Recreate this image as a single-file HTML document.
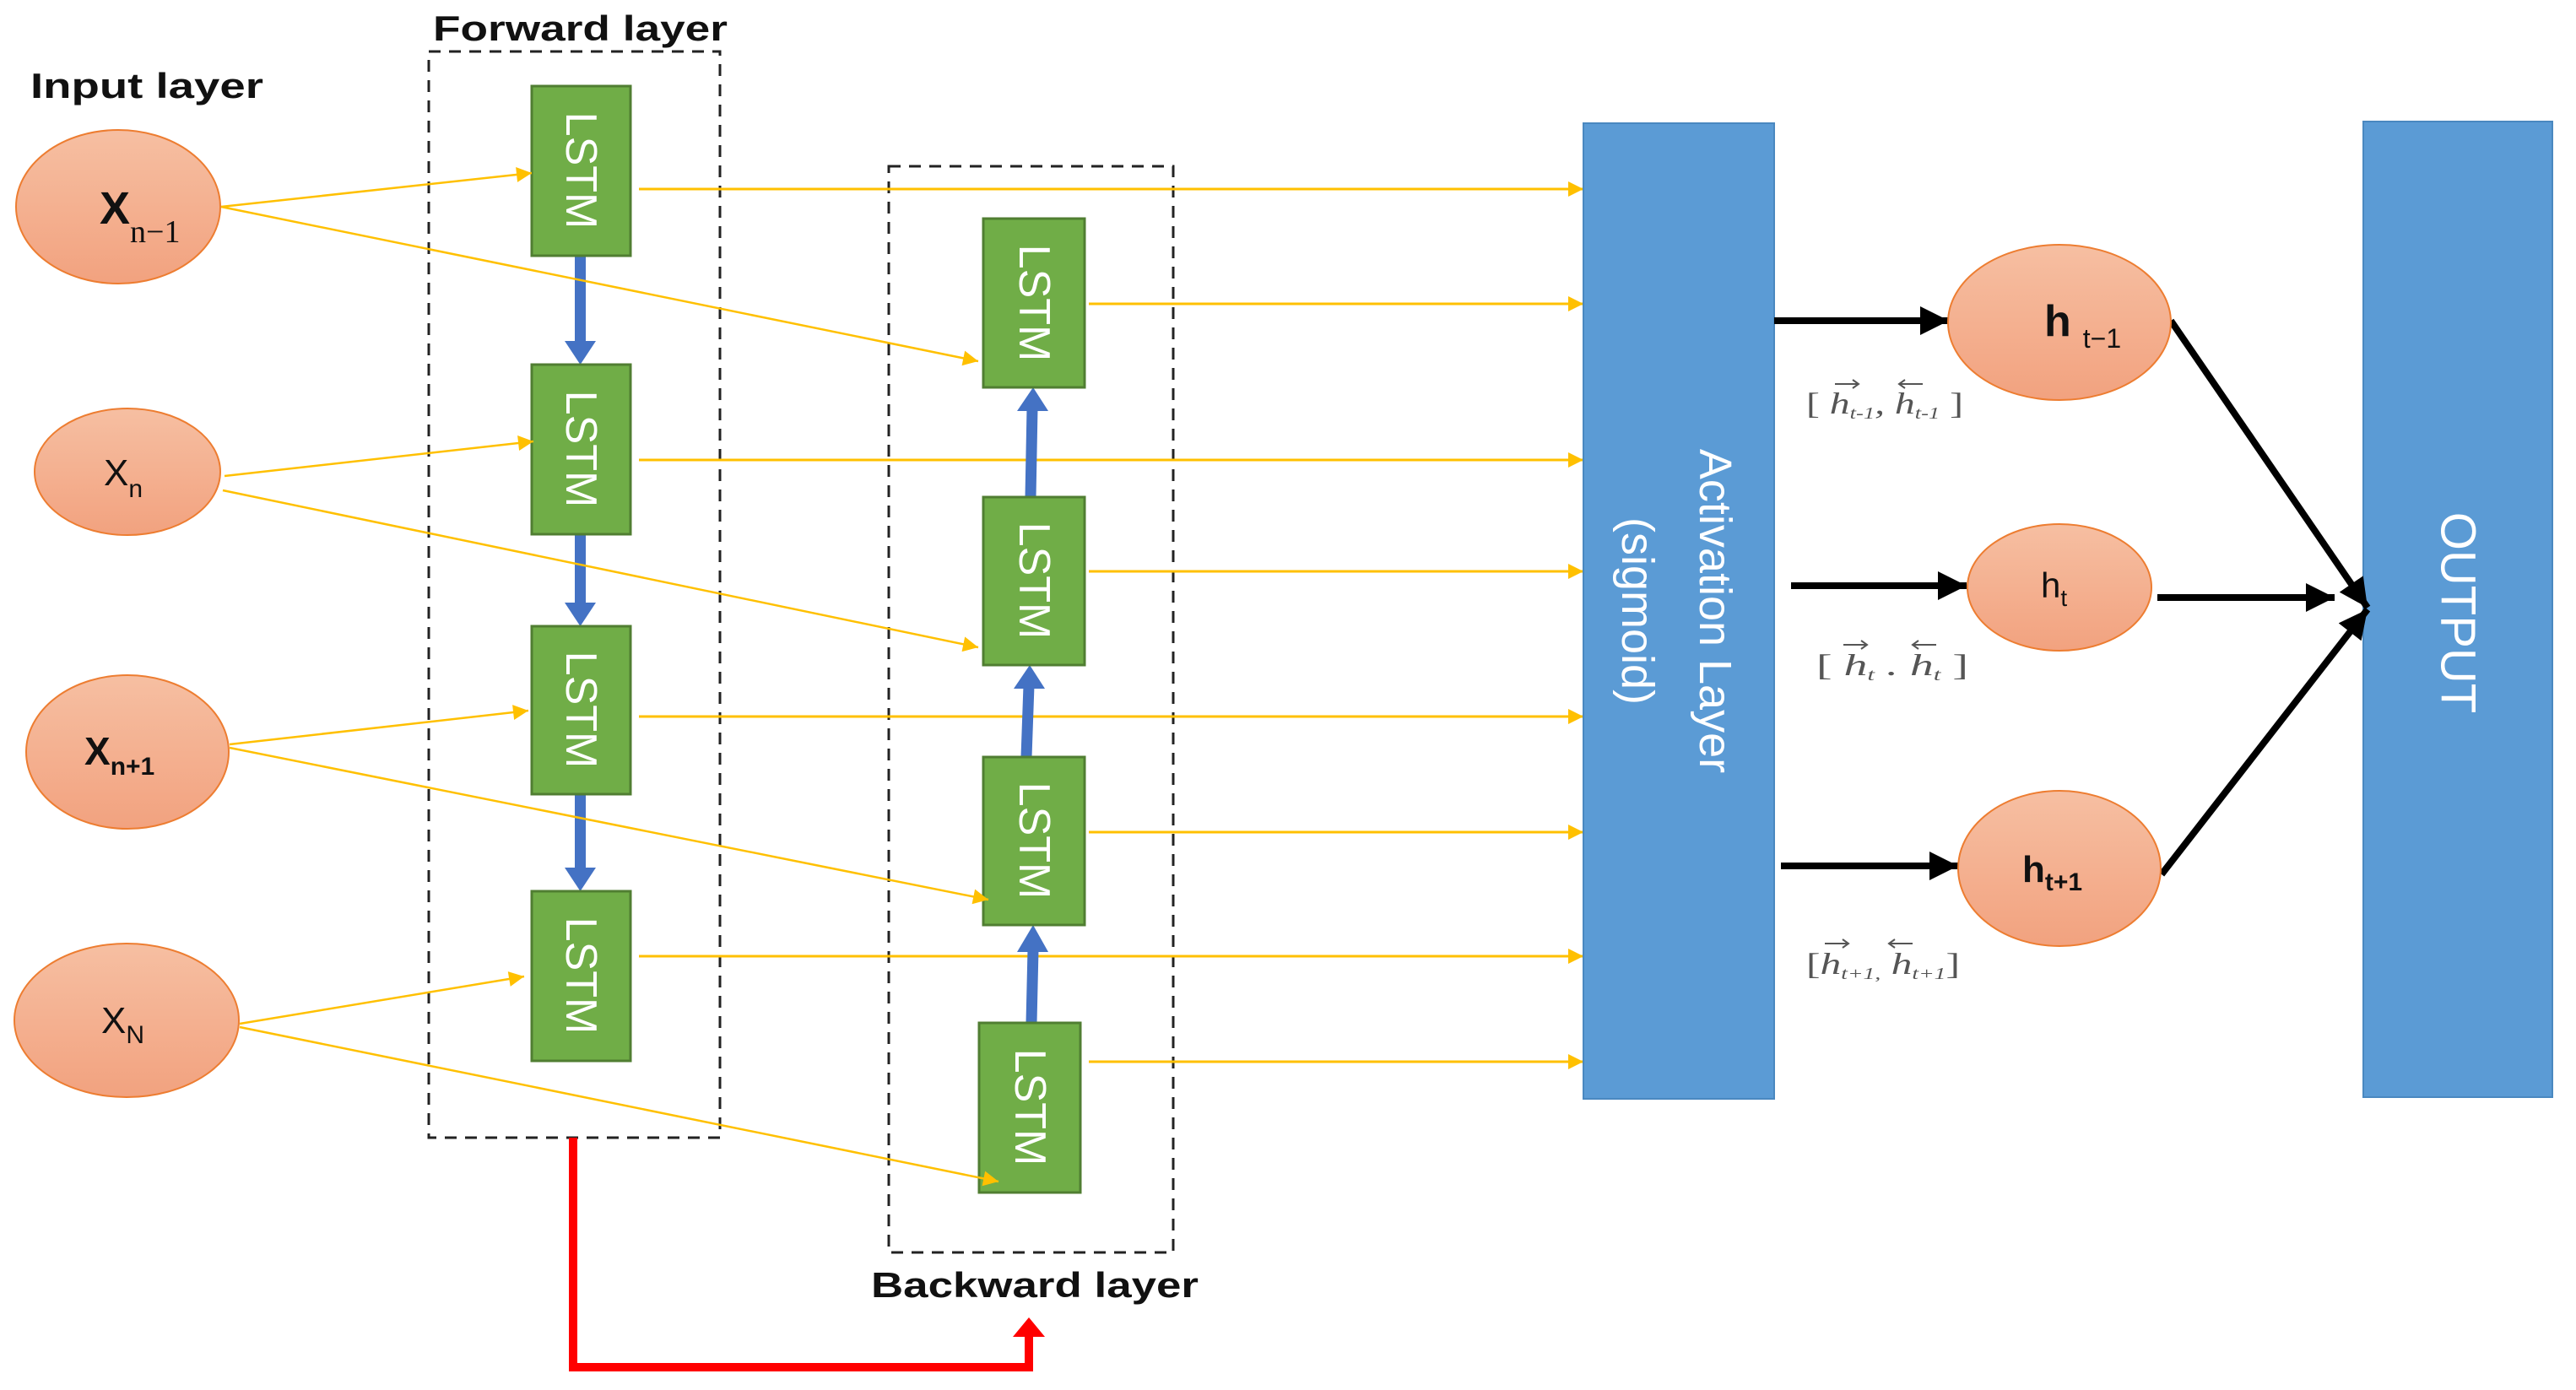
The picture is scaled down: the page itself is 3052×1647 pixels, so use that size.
<!DOCTYPE html>
<html><head><meta charset="utf-8"><style>
html,body{margin:0;padding:0;background:#fff;}
svg{display:block;}
</style></head><body>
<svg width="3052" height="1647" viewBox="0 0 3052 1647" xmlns="http://www.w3.org/2000/svg" font-family="Liberation Sans, DejaVu Sans, sans-serif">
<defs>
<linearGradient id="eg" x1="0" y1="0" x2="0" y2="1">
<stop offset="0" stop-color="#F6BFA2"/><stop offset="1" stop-color="#F2A27F"/>
</linearGradient>
<marker id="ya" viewBox="0 0 10 10" refX="10" refY="5" markerWidth="22" markerHeight="18" markerUnits="userSpaceOnUse" orient="auto"><path d="M0,0 L10,5 L0,10 z" fill="#FFC000"/></marker>
<marker id="ba" viewBox="0 0 10 10" refX="10" refY="5" markerWidth="40" markerHeight="34" markerUnits="userSpaceOnUse" orient="auto"><path d="M0,0 L10,5 L0,10 z" fill="#000"/></marker>
</defs>

<!-- labels -->
<text x="36" y="116" font-size="42" font-weight="bold" fill="#111" textLength="276" lengthAdjust="spacingAndGlyphs">Input layer</text>
<text x="513" y="48" font-size="42" font-weight="bold" fill="#111" textLength="349" lengthAdjust="spacingAndGlyphs">Forward layer</text>
<text x="1032" y="1537" font-size="42" font-weight="bold" fill="#111" textLength="388" lengthAdjust="spacingAndGlyphs">Backward layer</text>

<!-- dashed boxes -->
<rect x="508" y="61" width="345" height="1287" fill="none" stroke="#222" stroke-width="3" stroke-dasharray="14,10"/>
<rect x="1053" y="197" width="337" height="1287" fill="none" stroke="#222" stroke-width="3" stroke-dasharray="14,10"/>

<!-- yellow horizontals -->
<g stroke="#FFC000" stroke-width="3" fill="none" marker-end="url(#ya)">
<line x1="757" y1="224" x2="1876" y2="224"/>
<line x1="757" y1="545" x2="1876" y2="545"/>
<line x1="757" y1="849" x2="1876" y2="849"/>
<line x1="757" y1="1133" x2="1876" y2="1133"/>
<line x1="1290" y1="360" x2="1876" y2="360"/>
<line x1="1290" y1="677" x2="1876" y2="677"/>
<line x1="1290" y1="986" x2="1876" y2="986"/>
<line x1="1290" y1="1258" x2="1876" y2="1258"/>
</g>

<!-- input ellipses -->
<g fill="url(#eg)" stroke="#ED7D31" stroke-width="2">
<ellipse cx="140" cy="245" rx="121" ry="91"/>
<ellipse cx="151" cy="559" rx="110" ry="75"/>
<ellipse cx="151" cy="891" rx="120" ry="91"/>
<ellipse cx="150" cy="1209" rx="133" ry="91"/>
</g>
<text x="118" y="265" font-size="54" font-weight="bold" fill="#111">X<tspan font-family="Liberation Serif, serif" font-weight="normal" font-size="38" dy="22">n−1</tspan></text>
<text x="123" y="575" font-size="44" fill="#111">X<tspan font-size="30" dy="14">n</tspan></text>
<text x="100" y="906" font-size="46" font-weight="bold" fill="#111">X<tspan font-size="30" dy="12">n+1</tspan></text>
<text x="120" y="1224" font-size="44" fill="#111">X<tspan font-size="30" dy="12">N</tspan></text>

<!-- blue arrows -->
<g fill="#4472C4">
<rect x="681" y="303" width="13" height="105"/><path d="M669,404 L706,404 L687.5,432 z"/>
<rect x="681" y="633" width="13" height="85"/><path d="M669,714 L706,714 L687.5,742 z"/>
<rect x="681" y="941" width="13" height="91"/><path d="M669,1028 L706,1028 L687.5,1056 z"/>
</g>
<g stroke="#4472C4" stroke-width="13" fill="none">
<line x1="1221" y1="589" x2="1223" y2="484"/>
<line x1="1216" y1="897" x2="1219" y2="812"/>
<line x1="1222" y1="1212" x2="1224" y2="1125"/>
</g>
<g fill="#4472C4">
<path d="M1205,487 L1242,487 L1224,459 z"/>
<path d="M1201,816 L1238,816 L1220,788 z"/>
<path d="M1205,1128 L1242,1128 L1224,1096 z"/>
</g>

<!-- LSTM boxes -->
<g fill="#70AD47" stroke="#507E32" stroke-width="3">
<rect x="630" y="102" width="117" height="201"/>
<rect x="630" y="432" width="117" height="201"/>
<rect x="630" y="742" width="117" height="199"/>
<rect x="630" y="1056" width="117" height="201"/>
<rect x="1165" y="259" width="120" height="200"/>
<rect x="1165" y="589" width="120" height="199"/>
<rect x="1165" y="897" width="120" height="199"/>
<rect x="1160" y="1212" width="120" height="201"/>
</g>
<g fill="#fff" font-size="52" text-anchor="middle" dominant-baseline="central">
<text transform="translate(688,202) rotate(90)">LSTM</text>
<text transform="translate(688,532) rotate(90)">LSTM</text>
<text transform="translate(688,841) rotate(90)">LSTM</text>
<text transform="translate(688,1156) rotate(90)">LSTM</text>
<text transform="translate(1225,359) rotate(90)">LSTM</text>
<text transform="translate(1225,688) rotate(90)">LSTM</text>
<text transform="translate(1225,996) rotate(90)">LSTM</text>
<text transform="translate(1220,1312) rotate(90)">LSTM</text>
</g>

<!-- yellow diagonals (drawn over boxes) -->
<g stroke="#FFC000" stroke-width="2.5" fill="none" marker-end="url(#ya)">
<line x1="262" y1="245" x2="630" y2="205"/>
<line x1="262" y1="245" x2="1159" y2="428"/>
<line x1="266" y1="564" x2="632" y2="523"/>
<line x1="264" y1="581" x2="1159" y2="767"/>
<line x1="272" y1="882" x2="626" y2="842"/>
<line x1="272" y1="886" x2="1171" y2="1066"/>
<line x1="284" y1="1213" x2="621" y2="1157"/>
<line x1="284" y1="1217" x2="1183" y2="1400"/>
</g>

<!-- red connector -->
<polyline points="679,1348 679,1620 1219,1620 1219,1580" fill="none" stroke="#FF0000" stroke-width="10"/>
<path d="M1200,1584 L1238,1584 L1219,1561 z" fill="#FF0000"/>

<!-- activation + output -->
<rect x="1876" y="146" width="226" height="1156" fill="#5B9BD5" stroke="#4A88C0" stroke-width="2"/>
<rect x="2800" y="144" width="224" height="1156" fill="#5B9BD5" stroke="#4A88C0" stroke-width="2"/>
<g fill="#fff" text-anchor="middle" dominant-baseline="central">
<text transform="translate(2032,724) rotate(90)" font-size="54">Activation Layer</text>
<text transform="translate(1940,724) rotate(90)" font-size="54">(sigmoid)</text>
<text transform="translate(2912,726) rotate(90)" font-size="58">OUTPUT</text>
</g>

<!-- black arrows -->
<g stroke="#000" stroke-width="8" fill="none" marker-end="url(#ba)">
<line x1="2102" y1="380" x2="2309" y2="380"/>
<line x1="2122" y1="694" x2="2330" y2="694"/>
<line x1="2110" y1="1026" x2="2320" y2="1026"/>
<line x1="2556" y1="708" x2="2766" y2="708"/>
<line x1="2572" y1="380" x2="2805" y2="720"/>
<line x1="2561" y1="1036" x2="2805" y2="722"/>
</g>

<!-- h ellipses -->
<g fill="url(#eg)" stroke="#ED7D31" stroke-width="2">
<ellipse cx="2440" cy="382" rx="132" ry="92"/>
<ellipse cx="2440" cy="696" rx="109" ry="75"/>
<ellipse cx="2440" cy="1029" rx="120" ry="92"/>
</g>
<text x="2422" y="398" font-size="52" font-weight="bold" fill="#111">h<tspan font-size="32" font-weight="normal" dy="14" dx="14">t−1</tspan></text>
<text x="2418" y="708" font-size="42" fill="#111">h<tspan font-size="28" dy="10">t</tspan></text>
<text x="2396" y="1045" font-size="44" font-weight="bold" fill="#111">h<tspan font-size="30" dy="10">t+1</tspan></text>

<!-- small formula labels -->
<g fill="#555" font-family="Liberation Serif, serif" font-size="36" font-style="italic">
<text x="2140" y="490" textLength="186" lengthAdjust="spacingAndGlyphs"><tspan font-style="normal">[ </tspan>h<tspan font-size="20" dy="6">t-1</tspan><tspan dy="-6">, </tspan>h<tspan font-size="20" dy="6">t-1</tspan><tspan font-style="normal" dy="-6"> ]</tspan></text>
<text x="2152" y="800" textLength="180" lengthAdjust="spacingAndGlyphs"><tspan font-style="normal">[  </tspan>h<tspan font-size="20" dy="6">t</tspan><tspan dy="-6">  .  </tspan>h<tspan font-size="20" dy="6">t</tspan><tspan font-style="normal" dy="-6">  ]</tspan></text>
<text x="2140" y="1154" textLength="182" lengthAdjust="spacingAndGlyphs"><tspan font-style="normal">[</tspan>h<tspan font-size="20" dy="6">t+1,</tspan><tspan dy="-6"> </tspan>h<tspan font-size="20" dy="6">t+1</tspan><tspan font-style="normal" dy="-6">]</tspan></text>
</g>
<g stroke="#555" stroke-width="2" fill="none">
<path d="M2174,455 L2202,455 M2195,450 L2202,455 L2195,460"/>
<path d="M2250,455 L2278,455 M2257,450 L2250,455 L2257,460"/>
<path d="M2184,764 L2212,764 M2205,759 L2212,764 L2205,769"/>
<path d="M2266,764 L2294,764 M2273,759 L2266,764 L2273,769"/>
<path d="M2162,1118 L2190,1118 M2183,1113 L2190,1118 L2183,1123"/>
<path d="M2238,1118 L2266,1118 M2245,1113 L2238,1118 L2245,1123"/>
</g>
</svg>
</body></html>
